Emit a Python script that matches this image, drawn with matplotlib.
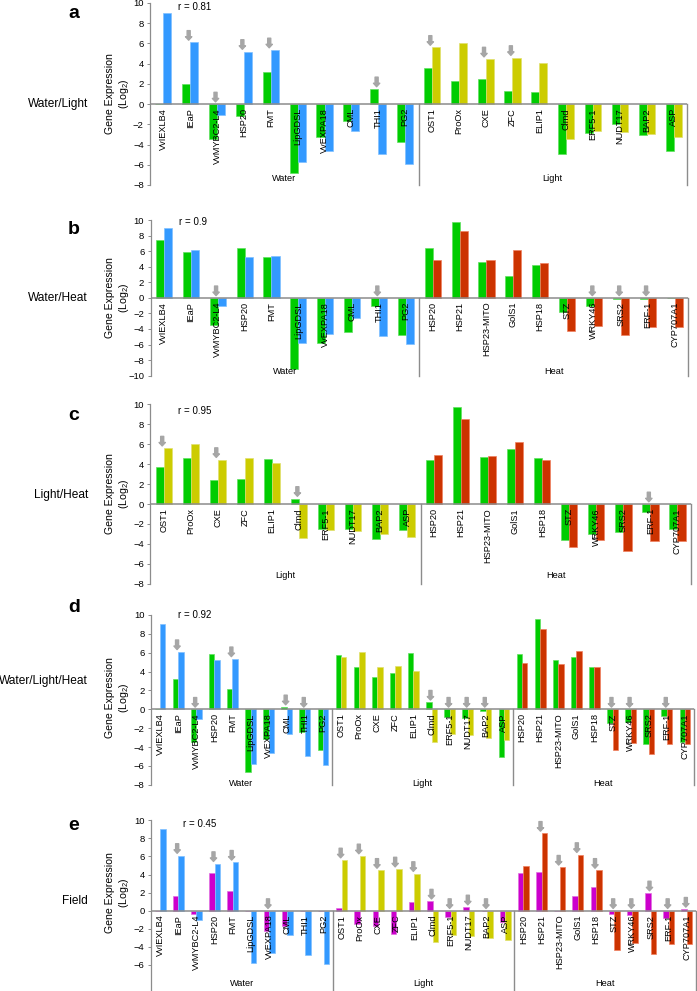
import matplotlib
matplotlib.use("Agg")
import matplotlib.pyplot as plt
from matplotlib.transforms import offset_copy

plt.rcParams['font.family'] = ['Liberation Sans', 'DejaVu Sans']
plt.rcParams['mathtext.default'] = 'regular'

# ---------------- data ----------------
water_genes = ['VvIEXLB4', 'IEaP', 'VvMYBC2-L4', 'HSP20', 'FMT', 'LipGDSL', 'VvEXPA18', 'CML', 'THI1', 'PG2']
light_genes = ['OST1', 'ProOx', 'CXE', 'ZFC', 'ELIP1', 'Clmd', 'ERF5-1', 'NUDT17', 'BAP2', 'ASP']
heat_genes = ['HSP20', 'HSP21', 'HSP23-MITO', 'GolS1', 'HSP18', 'STZ', 'WRKY46', 'SRS2', 'ERF-1', 'CYP707A1']

# single-stress expression (right bar in each pair)
water_single = [9.0, 6.1, -1.05, 5.2, 5.35, -5.75, -4.65, -2.65, -4.95, -5.95]
light_single = [5.6, 6.05, 4.45, 4.6, 4.1, -3.45, -2.65, -2.75, -3.0, -3.3]
heat_single = [4.9, 8.55, 4.8, 6.2, 4.45, -4.3, -3.6, -4.75, -3.7, -3.7]

# combined / field expression (left bar in each pair)
wl_water = [0.0, 2.0, -3.5, -1.2, 3.2, -6.8, -3.3, -1.7, 1.5, -3.75]
wl_light = [3.6, 2.3, 2.5, 1.25, 1.15, -4.95, -2.9, -2.0, -3.1, -4.6]
wh_water = [7.4, 5.9, -3.5, 6.4, 5.25, -9.1, -5.8, -4.4, -1.1, -4.75]
wh_heat = [6.4, 9.7, 4.55, 2.8, 4.2, -1.8, -1.05, -0.1, -0.1, 0.0]
lh_light = [3.75, 4.6, 2.45, 2.5, 4.55, 0.55, -2.5, -2.5, -3.5, -2.6]
lh_heat = [4.45, 9.7, 4.75, 5.5, 4.65, -3.6, -3.0, -2.8, -0.85, -2.5]
wlh_water = [0.0, 3.2, -3.45, 5.85, 2.15, -6.65, -3.1, 0.25, -2.35, -4.3]
wlh_light = [5.75, 4.5, 3.4, 3.9, 5.95, 0.75, -0.85, -0.9, -0.2, -5.1]
wlh_heat = [5.85, 9.55, 5.25, 5.5, 4.5, -1.5, -1.3, -3.7, -0.7, -3.45]
field_water = [0.0, 1.6, -0.35, 4.15, 2.15, 0.0, -2.25, -1.75, 0.0, 0.0]
field_light = [0.3, -1.5, -1.7, -2.6, 0.95, 1.05, -0.65, 0.4, 0.0, -1.2]
field_heat = [4.15, 4.3, 0.0, 1.6, 2.6, -0.35, -0.5, 1.95, -0.8, 0.15]

# genes marked by arrows
a_arrows = {'Water': ['IEaP', 'VvMYBC2-L4', 'HSP20', 'FMT', 'THI1'],
            'Light': ['OST1', 'CXE', 'ZFC']}
b_arrows = {'Water': ['VvMYBC2-L4', 'THI1'],
            'Heat': ['WRKY46', 'SRS2', 'ERF-1']}
c_arrows = {'Light': ['OST1', 'CXE', 'Clmd'],
            'Heat': ['ERF-1']}
d_arrows = {'Water': ['IEaP', 'VvMYBC2-L4', 'FMT', 'CML', 'THI1'],
            'Light': ['Clmd', 'ERF5-1', 'NUDT17', 'BAP2'],
            'Heat': ['STZ', 'WRKY46', 'ERF-1']}
e_arrows = {'Water': ['IEaP', 'HSP20', 'FMT', 'VvEXPA18'],
            'Light': ['OST1', 'ProOx', 'CXE', 'ZFC', 'ELIP1', 'Clmd', 'ERF5-1', 'NUDT17', 'BAP2'],
            'Heat': ['HSP21', 'HSP23-MITO', 'GolS1', 'HSP18', 'STZ', 'WRKY46', 'SRS2', 'ERF-1', 'CYP707A1']}

r_values = ['0.81', '0.9', '0.95', '0.92', '0.45']
row_labels = ['Water/Light', 'Water/Heat', 'Light/Heat', 'Water/Light/Heat', 'Field']
panel_letters = ['a', 'b', 'c', 'd', 'e']

# ---------------- styles ----------------
GREEN = '#00cc00'
MAGENTA = '#cc00cc'
COL = {'Water': '#3399ff', 'Light': '#cccc00', 'Heat': '#cc3300'}
EDGE = {'Water': '#80c0ff', 'Light': '#e0e070', 'Heat': '#f08060',
        'green': '#60e060', 'magenta': '#e070e0'}
GRAY = '#8c8c8c'

W, H = 697, 991
fig = plt.figure(figsize=(W / 100, H / 100), dpi=100)


def add_axes_px(left, right, top, bottom):
    return fig.add_axes([left / W, 1 - bottom / H, (right - left) / W, (bottom - top) / H])


genes_of = {'Water': water_genes, 'Light': light_genes, 'Heat': heat_genes}
single_of = {'Water': water_single, 'Light': light_single, 'Heat': heat_single}

panels = [
    dict(groups=['Water', 'Light'], first={'Water': wl_water, 'Light': wl_light}, fcol='green',
         arrows=a_arrows, px=(150, 687, 3, 185), ylim=(-8, 10), yticks=range(-8, 11, 2), glab=-7.4,
         rowy=104, lety=14, rxy=(178, 7), ylaby=94),
    dict(groups=['Water', 'Heat'], first={'Water': wh_water, 'Heat': wh_heat}, fcol='green',
         arrows=b_arrows, px=(150.5, 688, 220, 375.7), ylim=(-10, 10), yticks=range(-10, 11, 2), glab=-9.5,
         rowy=298, lety=230, rxy=(179, 222), ylaby=298),
    dict(groups=['Light', 'Heat'], first={'Light': lh_light, 'Heat': lh_heat}, fcol='green',
         arrows=c_arrows, px=(150.3, 691, 404.3, 583.8), ylim=(-8, 10), yticks=range(-8, 11, 2), glab=-7.2,
         rowy=495, lety=416, rxy=(178, 411), ylaby=494),
    dict(groups=['Water', 'Light', 'Heat'], first={'Water': wlh_water, 'Light': wlh_light, 'Heat': wlh_heat},
         fcol='green', arrows=d_arrows, px=(151, 694, 615, 784.8), ylim=(-8, 10), yticks=range(-8, 11, 2),
         glab=-7.85, rowy=681, lety=607, rxy=(178, 615), ylaby=698),
    dict(groups=['Water', 'Light', 'Heat'], first={'Water': field_water, 'Light': field_light, 'Heat': field_heat},
         fcol='magenta', arrows=e_arrows, px=(151, 696, 820.3, 991), ylim=(-8.89, 10), yticks=range(-6, 11, 2),
         glab=-8.1, rowy=901, lety=826, rxy=(183, 824), ylaby=893),
]

bw = 0.3
for k, p in enumerate(panels):
    l, r, t, b = p['px']
    ax = add_axes_px(l, r, t, b)
    n = 10 * len(p['groups'])
    ax.set_xlim(-0.5, n - 0.5)
    ax.set_ylim(*p['ylim'])
    for s in ['top', 'right', 'bottom']:
        ax.spines[s].set_visible(False)
    ax.spines['left'].set_color(GRAY)
    ax.spines['left'].set_linewidth(0.9)
    ax.set_xticks([])
    ax.set_yticks(list(p['yticks']))
    ax.tick_params(axis='y', length=2.5, width=0.7, color=GRAY, labelsize=6.8, pad=2)
    ax.axhline(0, color=GRAY, lw=1.1, zorder=4)

    fkey = p['fcol']
    fcolor = GREEN if fkey == 'green' else MAGENTA
    lab_tr = offset_copy(ax.transData, fig=fig, y=-4, units='dots')
    for gi, g in enumerate(p['groups']):
        xs = [gi * 10 + j for j in range(10)]
        v1 = p['first'][g]
        v2 = single_of[g]
        ax.bar([x - bw / 2 for x in xs], v1, width=bw, color=fcolor, edgecolor=EDGE[fkey], lw=0.5, zorder=2)
        ax.bar([x + bw / 2 for x in xs], v2, width=bw, color=COL[g], edgecolor=EDGE[g], lw=0.5, zorder=2)
        for x, name in zip(xs, genes_of[g]):
            ax.text(x, 0, name, rotation=90, ha='center', va='top', fontsize=6.6,
                    transform=lab_tr, zorder=6)
        for name in p['arrows'].get(g, []):
            j = genes_of[g].index(name)
            top = max(0, v1[j], v2[j])
            ax.annotate('', xy=(xs[j] - 0.06, top), xytext=(0, 8.5), textcoords='offset points',
                        arrowprops=dict(arrowstyle='simple,head_length=0.25,head_width=0.45,tail_width=0.22',
                                        color='#a6a6a6', shrinkA=0, shrinkB=1.6, mutation_scale=10),
                        zorder=7)
        # group label
        ax.text(gi * 10 + 4.5, p['glab'], g, ha='center', va='center', fontsize=6.6)
        # separator / right-edge lines
        xr = gi * 10 + 9.5
        ax.plot([xr, xr], [0, p['ylim'][0]], color=GRAY, lw=1.0, zorder=4, clip_on=False)

    # y label
    fig.text(118 / W, 1 - p['ylaby'] / H, 'Gene Expression\n(Log$_2$)', rotation=90, ha='center', va='center',
             fontsize=7.6, linespacing=1.15, multialignment='center')
    # row label
    fig.text(88 / W, 1 - p['rowy'] / H, row_labels[k], ha='right', va='center', fontsize=8.6)
    # panel letter
    fig.text(74 / W, 1 - p['lety'] / H, panel_letters[k], ha='center', va='center', fontsize=14,
             fontweight='bold')
    # correlation
    fig.text(p['rxy'][0] / W, 1 - p['rxy'][1] / H, 'r = ' + r_values[k], ha='left', va='center', fontsize=7)

fig.savefig('out.png', dpi=100)
